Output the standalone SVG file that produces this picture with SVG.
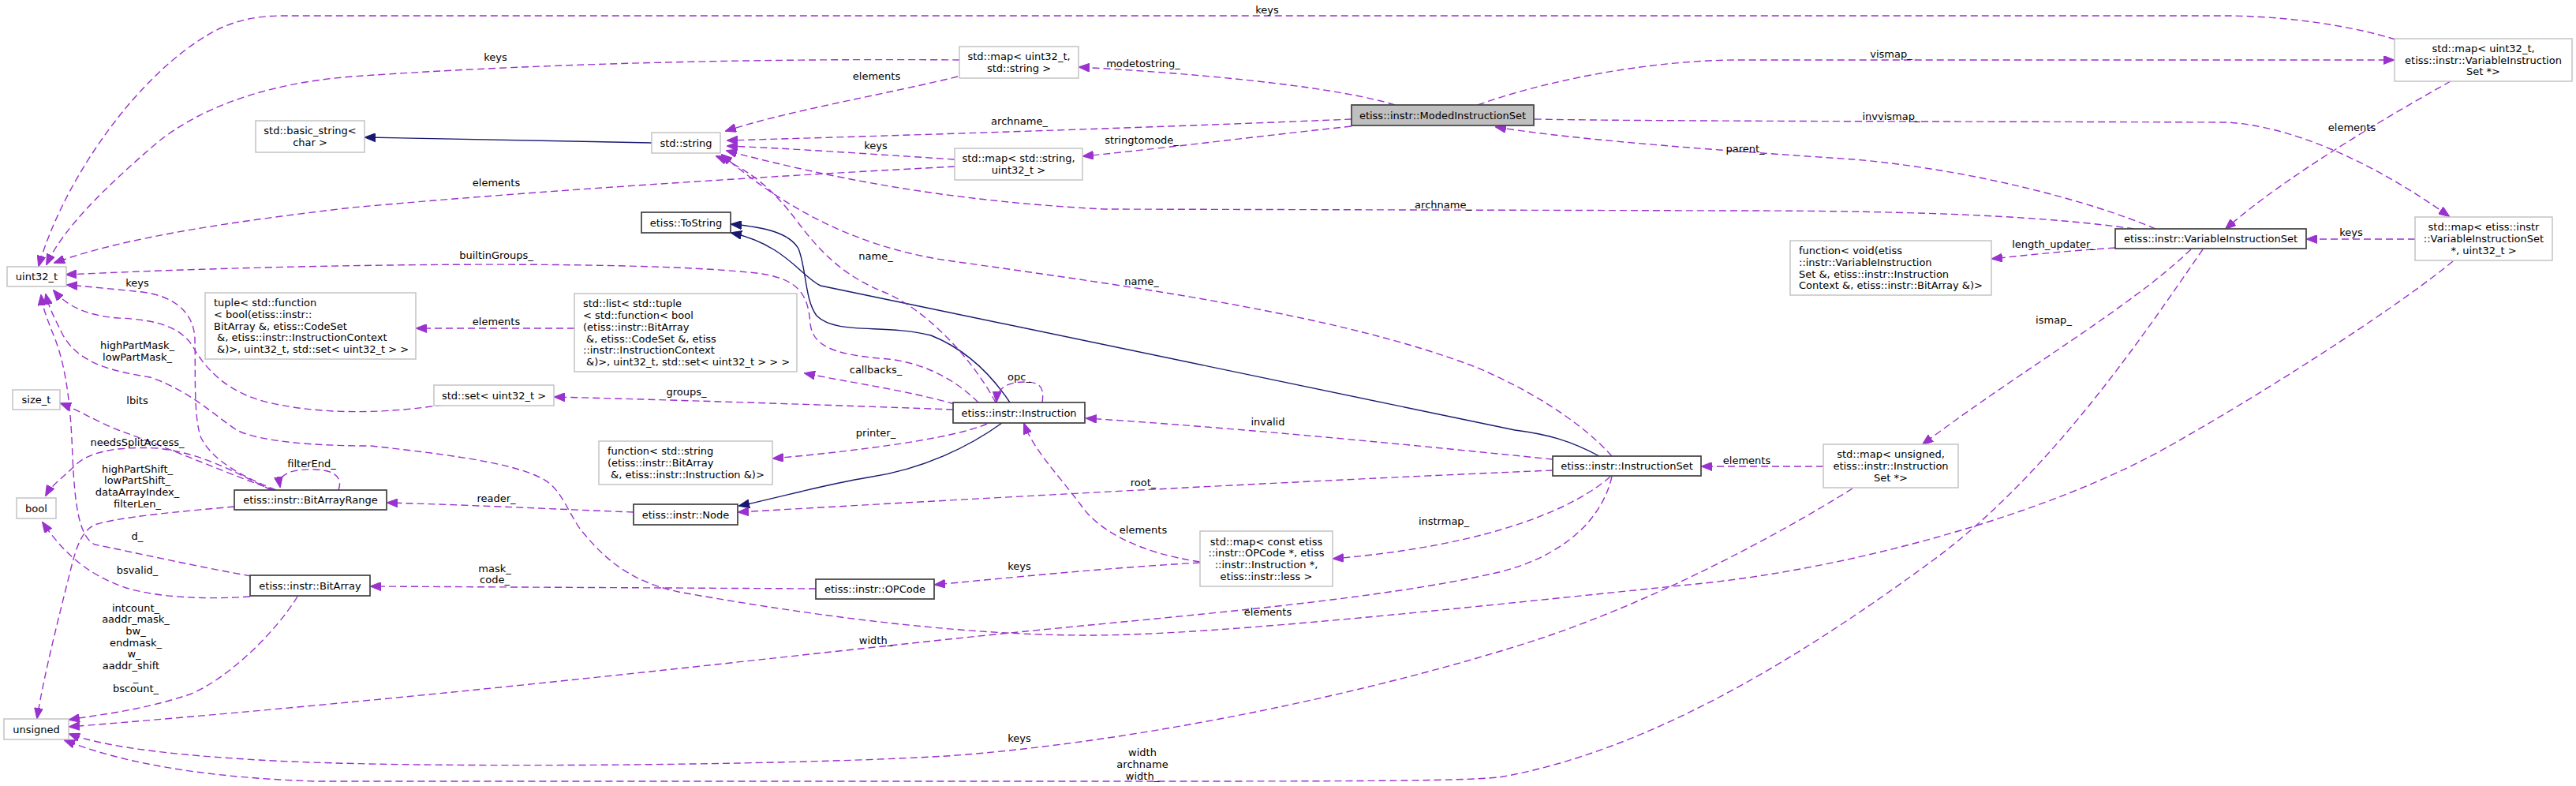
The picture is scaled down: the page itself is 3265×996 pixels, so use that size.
<svg xmlns="http://www.w3.org/2000/svg" width="3265" height="996" viewBox="0 0 3265 996">
<defs>
<style>
.e{fill:none;stroke:#9a32cd;stroke-width:1.4;stroke-dasharray:9,5;marker-end:url(#ap)}
.i{fill:none;stroke:#191970;stroke-width:1.4;marker-end:url(#an)}
.n rect{fill:#fff;stroke:#bfbfbf;stroke-width:1.4}
.d rect{fill:#fff;stroke:#404040;stroke-width:1.7}
.r rect{fill:#bfbfbf;stroke:#404040;stroke-width:1.7}
text{font-family:"DejaVu Sans","Liberation Sans",sans-serif;font-size:13px;fill:#000}
.c{text-anchor:middle}
</style>
<marker id="ap" viewBox="0 0 14 11" refX="13" refY="5.5" markerWidth="14" markerHeight="11" markerUnits="userSpaceOnUse" orient="auto"><path d="M0,0 L14,5.5 L0,11 z" fill="#9a32cd" stroke="#9a32cd" stroke-dasharray="none"/></marker>
<marker id="an" viewBox="0 0 14 11" refX="13" refY="5.5" markerWidth="14" markerHeight="11" markerUnits="userSpaceOnUse" orient="auto"><path d="M0,0 L14,5.5 L0,11 z" fill="#191970" stroke="#191970" stroke-dasharray="none"/></marker>
</defs>
<rect width="3265" height="996" fill="#fff"/>
<g id="edges">
<path class="i" d="M826,181 L463,174"/>
<path class="i" d="M1280,510 C1260,480 1230,445 1180,425 C1120,410 1060,425 1035,400 C1020,380 1022,340 1012,315 C1000,295 970,288 927,284"/>
<path class="i" d="M2027,578 C1990,558 1960,550 1920,545 L1040,362 C1015,350 995,310 927,295"/>
<path class="i" d="M1270,536 C1230,565 1170,595 1100,605 C1040,615 990,630 937,641"/>
<path class="e" d="M3036,50 C2975,31 2890,20 2820,20 L357,20 C320,20 290,28 262,45 C170,100 80,230 49,337"/>
<path class="e" d="M1216,76 C1000,74 700,79 446,97 C330,106 250,140 200,180 C130,240 80,290 59,335"/>
<path class="e" d="M1210,211 C1000,222 700,240 446,263 C300,280 160,300 69,333"/>
<path class="e" d="M1240,510 C1210,480 1170,460 1126,455 C1060,450 1030,440 1027,410 C1024,370 1010,350 948,345 C800,330 400,333 84,348"/>
<path class="e" d="M1262,510 C1230,450 1170,390 1120,370 C1070,350 1040,320 1010,280 C980,240 950,215 908,198"/>
<path class="e" d="M1210,512 C1150,495 1080,485 1020,473"/>
<path class="e" d="M1208,519 C1100,515 900,508 703,503"/>
<path class="e" d="M1251,537 C1210,555 1100,570 980,581"/>
<path class="e" d="M1321,510 C1323,495 1322,484 1300,484 C1275,484 1264,492 1263,509"/>
<path class="e" d="M1968,582 C1800,565 1580,543 1377,530"/>
<path class="e" d="M1968,596 C1700,607 1300,628 936,649"/>
<path class="e" d="M2043,578 C2000,530 1930,490 1870,465 C1700,400 1450,365 1200,330 C1080,312 990,260 915,196"/>
<path class="e" d="M1713,151 C1500,160 1200,170 922,178"/>
<path class="e" d="M1210,202 C1100,195 1000,188 922,185"/>
<path class="e" d="M1214,97 C1120,120 1000,140 920,166"/>
<path class="e" d="M2705,290 C2600,275 2450,267 2200,267 L1400,265 C1200,255 1050,225 921,191"/>
<path class="e" d="M1768,133 C1700,112 1550,95 1368,85"/>
<path class="e" d="M1713,160 C1600,172 1500,185 1373,198"/>
<path class="e" d="M1873,133 C1950,105 2080,77 2200,76 L3034,76"/>
<path class="e" d="M1945,151 C2100,154 2600,154 2824,155 C2900,160 3000,200 3104,274"/>
<path class="e" d="M2732,290 C2650,255 2500,215 2350,202 C2200,192 2000,178 1896,161"/>
<path class="e" d="M3106,103 C3040,140 2900,220 2821,290"/>
<path class="e" d="M3061,303 L2924,303"/>
<path class="e" d="M2681,314 C2620,318 2580,322 2525,328"/>
<path class="e" d="M2777,316 C2700,390 2560,470 2437,563"/>
<path class="e" d="M2792,316 C2720,420 2600,600 2450,710 C2300,820 2100,950 1900,985 C1850,990 1700,990 1360,990 L400,990 C250,985 150,965 82,938"/>
<path class="e" d="M2311,591 L2157,591"/>
<path class="e" d="M2348,619 C2250,680 2100,760 1950,810 C1750,875 1450,940 1200,958 C1000,970 500,975 312,962 C200,955 130,945 88,930"/>
<path class="e" d="M2041,604 C2000,640 1900,690 1690,708"/>
<path class="e" d="M2043,604 C2030,660 1980,705 1900,725 C1750,760 1500,780 1300,800 C1000,830 600,880 88,921"/>
<path class="e" d="M1521,712 C1440,700 1390,670 1370,640 C1340,600 1310,570 1298,537"/>
<path class="e" d="M1521,713 C1400,720 1300,730 1185,741"/>
<path class="e" d="M728,416 L528,416"/>
<path class="e" d="M562,513 C500,522 420,528 340,510 C290,498 262,470 245,440 C230,415 200,405 150,403 C110,400 85,388 68,368"/>
<path class="e" d="M350,621 C310,605 270,585 255,555 C245,530 248,470 247,430 C246,395 220,375 180,370 C140,366 110,363 85,361"/>
<path class="e" d="M3109,331 C3050,380 2900,480 2750,565 C2600,650 2350,720 2150,740 C1900,765 1550,805 1380,805 C1200,805 1000,775 860,750 C790,735 760,700 735,670 C715,640 710,615 680,603 C640,585 560,575 470,565 C400,565 330,560 300,545 C270,525 240,495 190,478 C140,470 100,460 80,425 C70,405 62,390 58,373"/>
<path class="e" d="M318,730 C250,718 170,700 120,690 C100,680 95,640 92,580 C90,520 85,470 70,430 C60,405 54,390 52,374"/>
<path class="e" d="M348,621 C300,605 220,570 150,545 C120,533 100,520 77,511"/>
<path class="e" d="M344,621 C300,600 260,575 200,568 C140,565 110,575 95,590 C80,605 65,615 58,628"/>
<path class="e" d="M429,621 C434,608 428,596 400,595 C370,594 352,600 355,617"/>
<path class="e" d="M297,642 C230,648 150,655 120,665 C100,675 95,700 85,740 C70,800 55,860 47,910"/>
<path class="e" d="M803,649 C700,645 600,640 491,637"/>
<path class="e" d="M1034,746 L470,743"/>
<path class="e" d="M317,756 C260,760 200,757 160,745 C110,728 80,700 54,662"/>
<path class="e" d="M377,756 C350,800 290,860 240,880 C180,900 130,905 88,912"/>
</g>
<g id="edge-labels">
<text class="c" x="1606" y="16.5">keys</text>
<text class="c" x="628" y="76.5">keys</text>
<text class="c" x="1111" y="100.5">elements</text>
<text class="c" x="1449" y="84.5">modetostring_</text>
<text class="c" x="1292" y="157.5">archname_</text>
<text class="c" x="1110" y="188.5">keys</text>
<text class="c" x="1447" y="181.5">stringtomode_</text>
<text class="c" x="629" y="235.5">elements</text>
<text class="c" x="1829" y="263.5">archname_</text>
<text class="c" x="629" y="327.5">builtinGroups_</text>
<text class="c" x="1110" y="328.5">name_</text>
<text class="c" x="1447" y="360.5">name_</text>
<text class="c" x="174" y="362.5">keys</text>
<text class="c" x="629" y="411.5">elements</text>
<text class="c" x="1110" y="472.5">callbacks_</text>
<text class="c" x="1292" y="481.5">opc_</text>
<text class="c" x="174" y="441.5">highPartMask_</text>
<text class="c" x="174" y="456.5">lowPartMask_</text>
<text class="c" x="870" y="500.5">groups_</text>
<text class="c" x="174" y="511.5">lbits</text>
<text class="c" x="1110" y="552.5">printer_</text>
<text class="c" x="174" y="564.5">needsSplitAccess_</text>
<text class="c" x="395" y="591.5">filterEnd_</text>
<text class="c" x="174" y="598.5">highPartShift_</text>
<text class="c" x="174" y="612.5">lowPartShift_</text>
<text class="c" x="174" y="627.5">dataArrayIndex_</text>
<text class="c" x="174" y="642.5">filterLen_</text>
<text class="c" x="629" y="635.5">reader_</text>
<text class="c" x="1607" y="538.5">invalid</text>
<text class="c" x="1449" y="615.5">root_</text>
<text class="c" x="1449" y="675.5">elements</text>
<text class="c" x="1830" y="664.5">instrmap_</text>
<text class="c" x="174" y="683.5">d_</text>
<text class="c" x="1292" y="721.5">keys</text>
<text class="c" x="627" y="724.5">mask_</text>
<text class="c" x="627" y="738.5">code_</text>
<text class="c" x="174" y="726.5">bsvalid_</text>
<text class="c" x="1607" y="779.5">elements</text>
<text class="c" x="1110" y="815.5">width_</text>
<text class="c" x="172" y="775">intcount_</text>
<text class="c" x="172" y="789">aaddr_mask_</text>
<text class="c" x="172" y="804">bw_</text>
<text class="c" x="172" y="819">endmask_</text>
<text class="c" x="170" y="833">w_</text>
<text class="c" x="166" y="848">aaddr_shift</text>
<text class="c" x="172" y="863">_</text>
<text class="c" x="172" y="877">bscount_</text>
<text class="c" x="1292" y="939.5">keys</text>
<text class="c" x="1448" y="957.5">width</text>
<text class="c" x="1448" y="972.5">archname</text>
<text class="c" x="1448" y="987.5">width_</text>
<text class="c" x="2397" y="72.5">vismap_</text>
<text class="c" x="2397" y="151.5">invvismap_</text>
<text class="c" x="2212" y="192.5">parent_</text>
<text class="c" x="2603" y="313.5">length_updater_</text>
<text class="c" x="2603" y="409.5">ismap_</text>
<text class="c" x="2214" y="587.5">elements</text>
<text class="c" x="2981" y="165.5">elements</text>
<text class="c" x="2980" y="298.5">keys</text>
</g>
<g id="node-uint32_t" class="n"><rect x="9" y="338" width="75" height="25"/><text class="c" x="46.5" y="355">uint32_t</text></g>
<g id="node-size_t" class="n"><rect x="16" y="494" width="60" height="25"/><text class="c" x="46" y="511">size_t</text></g>
<g id="node-bool" class="n"><rect x="21" y="631" width="50" height="26"/><text class="c" x="46" y="648.5">bool</text></g>
<g id="node-unsigned" class="n"><rect x="5" y="911" width="82" height="26"/><text class="c" x="46" y="928.5">unsigned</text></g>
<g id="node-basic_string" class="n"><rect x="324" y="153" width="138" height="40"/><text class="c" x="393" y="170">std::basic_string&lt;</text><text class="c" x="393" y="185">char &gt;</text></g>
<g id="node-string" class="n"><rect x="826" y="168" width="87" height="26"/><text class="c" x="869.5" y="185.5">std::string</text></g>
<g id="node-map_u32_str" class="n"><rect x="1216" y="59" width="151" height="40"/><text class="c" x="1291.5" y="76">std::map&lt; uint32_t,</text><text class="c" x="1291.5" y="91">std::string &gt;</text></g>
<g id="node-map_str_u32" class="n"><rect x="1210" y="188" width="162" height="40"/><text class="c" x="1291" y="205">std::map&lt; std::string,</text><text class="c" x="1291" y="220">uint32_t &gt;</text></g>
<g id="node-ModedInstructionSet" class="r"><rect x="1713" y="133" width="231" height="26"/><text class="c" x="1828.5" y="150.5">etiss::instr::ModedInstructionSet</text></g>
<g id="node-ToString" class="d"><rect x="813" y="269" width="113" height="26"/><text class="c" x="869.5" y="286.5">etiss::ToString</text></g>
<g id="node-tuple" class="n"><rect x="260" y="371" width="267" height="84"/><text x="271" y="388">tuple&lt; std::function</text><text x="271" y="402.5">&lt; bool(etiss::instr::</text><text x="271" y="417.5">BitArray &amp;, etiss::CodeSet</text><text x="275" y="432">&amp;, etiss::instr::InstructionContext</text><text x="275" y="447">&amp;)&gt;, uint32_t, std::set&lt; uint32_t &gt; &gt;</text></g>
<g id="node-list" class="n"><rect x="728" y="372" width="282" height="99"/><text x="739" y="389">std::list&lt; std::tuple</text><text x="739" y="404">&lt; std::function&lt; bool</text><text x="739" y="418.5">(etiss::instr::BitArray</text><text x="743" y="433.5">&amp;, etiss::CodeSet &amp;, etiss</text><text x="739" y="448">::instr::InstructionContext</text><text x="743" y="463">&amp;)&gt;, uint32_t, std::set&lt; uint32_t &gt; &gt; &gt;</text></g>
<g id="node-set" class="n"><rect x="550" y="488" width="152" height="26"/><text class="c" x="626" y="505.5">std::set&lt; uint32_t &gt;</text></g>
<g id="node-Instruction" class="d"><rect x="1208" y="510" width="167" height="26"/><text class="c" x="1291.5" y="527.5">etiss::instr::Instruction</text></g>
<g id="node-function_string" class="n"><rect x="759" y="559" width="220" height="55"/><text x="770" y="576">function&lt; std::string</text><text x="770" y="591">(etiss::instr::BitArray</text><text x="774" y="605.5">&amp;, etiss::instr::Instruction &amp;)&gt;</text></g>
<g id="node-BitArrayRange" class="d"><rect x="297" y="621" width="193" height="25"/><text class="c" x="393.5" y="638">etiss::instr::BitArrayRange</text></g>
<g id="node-Node" class="d"><rect x="803" y="639" width="132" height="26"/><text class="c" x="869" y="656.5">etiss::instr::Node</text></g>
<g id="node-BitArray" class="d"><rect x="317" y="729" width="152" height="26"/><text class="c" x="393" y="746.5">etiss::instr::BitArray</text></g>
<g id="node-OPCode" class="d"><rect x="1034" y="734" width="150" height="25"/><text class="c" x="1109" y="751">etiss::instr::OPCode</text></g>
<g id="node-map_opcode" class="n"><rect x="1521" y="673" width="168" height="70"/><text class="c" x="1605" y="690.5">std::map&lt; const etiss</text><text class="c" x="1605" y="705">::instr::OPCode *, etiss</text><text class="c" x="1605" y="720">::instr::Instruction *,</text><text class="c" x="1605" y="734.5">etiss::instr::less &gt;</text></g>
<g id="node-InstructionSet" class="d"><rect x="1968" y="578" width="188" height="25"/><text class="c" x="2062" y="595">etiss::instr::InstructionSet</text></g>
<g id="node-map_unsigned" class="n"><rect x="2311" y="563" width="171" height="55"/><text class="c" x="2396.5" y="580">std::map&lt; unsigned,</text><text class="c" x="2396.5" y="595">etiss::instr::Instruction</text><text class="c" x="2396.5" y="610">Set *&gt;</text></g>
<g id="node-VariableInstructionSet" class="d"><rect x="2681" y="290" width="242" height="25"/><text class="c" x="2802" y="307">etiss::instr::VariableInstructionSet</text></g>
<g id="node-function_void" class="n"><rect x="2269" y="305" width="255" height="69"/><text x="2280" y="322">function&lt; void(etiss</text><text x="2280" y="336.5">::instr::VariableInstruction</text><text x="2280" y="351.5">Set &amp;, etiss::instr::Instruction</text><text x="2280" y="366">Context &amp;, etiss::instr::BitArray &amp;)&gt;</text></g>
<g id="node-map_u32_vis" class="n"><rect x="3035" y="49" width="225" height="54"/><text class="c" x="3147.5" y="65.5">std::map&lt; uint32_t,</text><text class="c" x="3147.5" y="80.5">etiss::instr::VariableInstruction</text><text class="c" x="3147.5" y="95">Set *&gt;</text></g>
<g id="node-map_vis_u32" class="n"><rect x="3061" y="275" width="174" height="55"/><text class="c" x="3148" y="292">std::map&lt; etiss::instr</text><text class="c" x="3148" y="307">::VariableInstructionSet</text><text class="c" x="3148" y="321.5">*, uint32_t &gt;</text></g>
</svg>
